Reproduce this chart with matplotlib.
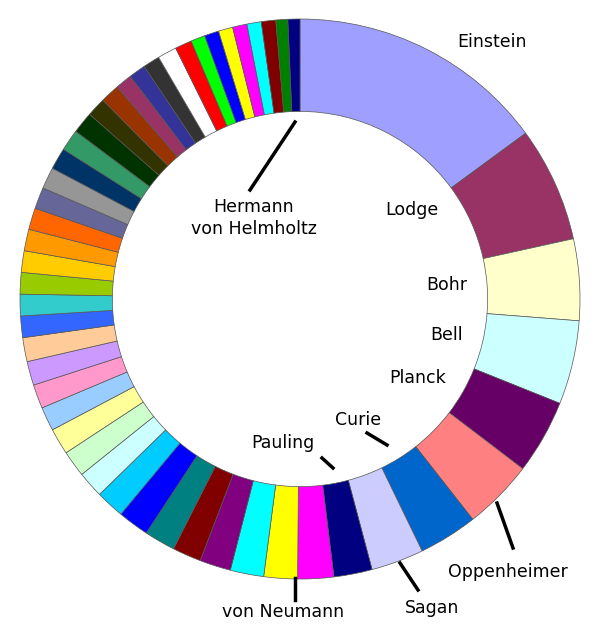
import matplotlib
matplotlib.use("Agg")
import matplotlib.pyplot as plt

names = ["Einstein","Lodge","Bohr","Bell","Planck","Oppenheimer","Curie","Sagan","Pauling","von Neumann"] + [""]*39 + ["Hermann\nvon Helmholtz"]
values = [54,24,17,17.5,15.5,14.7,12.3,11,8,7.5,
          7,7,6.5,6,6.5,6.5,6,5.5,5.5,5.5,5,5,5,5,4.5,4.5,4.5,4.5,4.5,4.5,4.5,4.5,4.5,4.5,4.5,4,4,3.5,3.5,3.5,
          4,3.5,3,3,3,3,3,3,2.5,2.5]
colors = ["#9f9fff","#993366","#ffffcc","#ccffff","#660066","#ff8080","#0066cc","#ccccff","#000080","#ff00ff",
          "#ffff00","#00ffff","#800080","#800000","#008080","#0000ff","#00ccff","#ccffff","#ccffcc","#ffff99",
          "#99ccff","#ff99cc","#cc99ff","#ffcc99","#3366ff","#33cccc","#99cc00","#ffcc00","#ff9900","#ff6600",
          "#666699","#969696","#003366","#339966","#003300","#333300","#993300","#993366","#333399","#333333",
          "#ffffff","#ff0000","#00ff00","#0000ff","#ffff00","#ff00ff","#00ffff","#800000","#008000","#000080"]

fig = plt.figure(figsize=(6,6.39), dpi=100)
ax = fig.add_axes([0,0,1,1])
ax.pie(values, colors=colors, startangle=90, counterclock=False, radius=1,
       wedgeprops=dict(width=0.33, edgecolor="#555555", linewidth=0.5))
ax.set_aspect("auto")
RX, RY, CX, CY = 280, 280, 300, 299
ax.set_xlim(-CX/RX, (600-CX)/RX)
ax.set_ylim(-(639-CY)/RY, CY/RY)
ax.axis("off")

def P(px, py):
    return ((px-CX)/RX, (CY-py)/RY)

labels_pos = {"Einstein":(492,42),"Lodge":(412,210),"Bohr":(447,285),"Bell":(447,335),"Planck":(418,378),
              "Curie":(358,420),"Pauling":(283,443),"Oppenheimer":(508,572),"Sagan":(432,608),
              "von Neumann":(283,612),"Hermann\nvon Helmholtz":(254,218)}
for n in names:
    if n in labels_pos:
        x, y = P(*labels_pos[n])
        ax.text(x, y, n, ha="center", va="center", fontsize=12.5, linespacing=1.3)

lines = [((250,190),(295,122)),((367,433),(387,445)),((322,458),(333,468)),
         ((497,503),(513,548)),((400,563),(418,590)),((295,578),(295,600))]
for a, b in lines:
    (x1,y1),(x2,y2) = P(*a), P(*b)
    ax.plot([x1,x2],[y1,y2], color="black", lw=2.5)

fig.savefig("out.png", dpi=100)
